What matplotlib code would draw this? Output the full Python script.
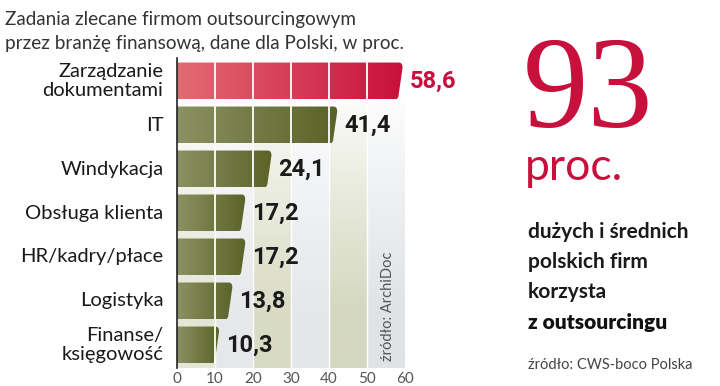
import numpy as np
import matplotlib
matplotlib.use("Agg")
import matplotlib.pyplot as plt
from matplotlib.path import Path
from matplotlib.patches import PathPatch
from matplotlib.colors import to_rgb

categories = ["Zarządzanie\ndokumentami", "IT", "Windykacja", "Obsługa klienta",
              "HR/kadry/płace", "Logistyka", "Finanse/\nksięgowość"]
values = [58.6, 41.4, 24.1, 17.2, 17.2, 13.8, 10.3]
value_labels = ["58,6", "41,4", "24,1", "17,2", "17,2", "13,8", "10,3"]
xticks = [0, 10, 20, 30, 40, 50, 60]

W, H = 720, 386
fig = plt.figure(figsize=(W/100, H/100), dpi=100)
fig.patch.set_facecolor("white")

def fx(px): return px / W
def fy(py): return 1 - py / H

ax = fig.add_axes([fx(177), fy(368), fx(405) - fx(177), fy(58) - fy(368)])
n = len(categories)
pad = 0.523
ax.set_xlim(0, 60)
ax.set_ylim(n - 1 + pad, -pad)

# background bands with vertical gradient
band_cols = ["#e4e6d6", "#e6e8eb", "#d9dbc4", "#e5e7ea", "#d5d8bf", "#e0e3e6"]
rows = 200
img = np.ones((rows, 600, 3))
t = np.clip((np.linspace(0, 1, rows) - 0.12) / 0.7, 0, 1) ** 0.8
for b, c in enumerate(band_cols):
    rgb = np.array(to_rgb(c))
    col = 1 - t[:, None] * (1 - rgb[None, :])
    img[:, b*100:(b+1)*100, :] = col[:, None, :]
ax.imshow(img, extent=(0, 60, n - 1 + pad, -pad), aspect="auto", zorder=0,
          interpolation="bilinear")

h = 0.84
def bar_path(y, v):
    top = y - h/2
    bot = y + h/2
    r = 0.12
    xt = v + 0.8
    xb = v - 0.3
    verts = [(0, top), (xt - 1.0, top), (xt, top), (xt - 0.05, top + r),
             (xb + 0.05, bot - r), (xb, bot), (xb - 1.0, bot), (0, bot), (0, top)]
    codes = [Path.MOVETO, Path.LINETO, Path.CURVE3, Path.CURVE3,
             Path.LINETO, Path.CURVE3, Path.CURVE3, Path.LINETO, Path.CLOSEPOLY]
    return Path(verts, codes)

for i, v in enumerate(values):
    if i == 0:
        c0, c1 = to_rgb("#e36b73"), to_rgb("#c8103c")
    else:
        c0, c1 = to_rgb("#8c9163"), to_rgb("#5a6227")
    grad = np.linspace(0, 1, 256)
    g = np.array(c0)[None, :] * (1 - grad[:, None]) + np.array(c1)[None, :] * grad[:, None]
    gimg = g[None, :, :]
    patch = PathPatch(bar_path(i, v), facecolor="none", edgecolor="none", zorder=2)
    ax.add_patch(patch)
    im = ax.imshow(gimg, extent=(0, v + 1, i + h/2, i - h/2), aspect="auto",
                   zorder=2, interpolation="bilinear")
    im.set_clip_path(patch)
    for xv in xticks[1:]:
        if xv < v:
            ax.plot([xv, xv], [i - h/2, i + h/2], color="white", lw=1.3, zorder=3)
    color = "#c8103c" if i == 0 else "#1a1a1a"
    ax.text(v + 2.6, i, value_labels[i], ha="left", va="center", fontsize=17,
            fontweight="bold", color=color,
            family=["Roboto", "DejaVu Sans"], zorder=4)

for xv in xticks[1:-1]:
    ax.axvline(xv, color="white", lw=1.0, zorder=1)

ax.set_yticks(range(n))
ax.set_yticklabels([])
ax.set_xticks(xticks)
ax.set_xticklabels([str(x) for x in xticks], fontsize=11, color="#555555",
                   family=["Lato", "DejaVu Sans"])
ax.tick_params(axis="x", length=0, pad=3)
ax.tick_params(axis="y", length=0)
for s in ["top", "right", "bottom"]:
    ax.spines[s].set_visible(False)
ax.spines["left"].set_color("#222222")
ax.spines["left"].set_linewidth(1.2)

for i, lab in enumerate(categories):
    ax.text(-3.6, i, lab, ha="right", va="center", fontsize=14.5, color="#1a1a1a",
            family=["Lato", "DejaVu Sans"], linespacing=1.12, clip_on=False)

ax.text(55.5, n - 1 + pad - 0.15, "źródło: ArchiDoc", rotation=90, ha="center", va="bottom",
        fontsize=10.5, color="#555555", family=["Lato", "DejaVu Sans"], zorder=4)

fig.text(fx(5), fy(19), "Zadania zlecane firmom outsourcingowym", ha="left", va="center",
         fontsize=13.6, color="#333333", family=["Lato", "DejaVu Sans"])
fig.text(fx(5), fy(43), "przez branżę finansową, dane dla Polski, w proc.", ha="left", va="center",
         fontsize=13.6, color="#333333", family=["Lato", "DejaVu Sans"])

fig.text(fx(523), fy(127), "93", ha="left", va="baseline", fontsize=94, color="#c8103c",
         family=["Liberation Serif", "DejaVu Serif"])
fig.text(fx(525), fy(180), "proc.", ha="left", va="baseline", fontsize=32, color="#c8103c",
         family=["Lato", "DejaVu Sans"])

lines = ["dużych i średnich", "polskich firm", "korzysta"]
for k, ln in enumerate(lines):
    fig.text(fx(528), fy(232 + 30*k), ln, ha="left", va="center", fontsize=15,
             color="#1a1a1a", family=["Lato", "DejaVu Sans"], fontweight="bold")
fig.text(fx(528), fy(322), "z outsourcingu", ha="left", va="center", fontsize=15,
         color="#111111", family=["Lato", "DejaVu Sans"], fontweight="heavy")
fig.text(fx(528), fy(365), "źródło: CWS-boco Polska", ha="left", va="center", fontsize=10.5,
         color="#444444", family=["Lato", "DejaVu Sans"])

fig.savefig("out.png", dpi=100, facecolor="white")
